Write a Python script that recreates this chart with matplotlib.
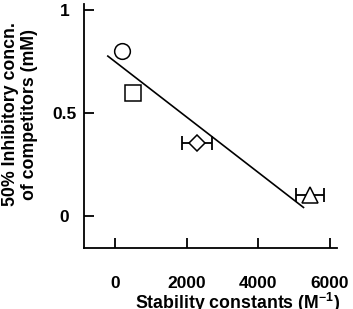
import matplotlib
matplotlib.use("Agg")
import matplotlib.pyplot as plt

plt.rcParams['font.family'] = ['Liberation Sans', 'DejaVu Sans']
plt.rcParams['mathtext.fontset'] = 'custom'
plt.rcParams['mathtext.rm'] = 'Liberation Sans'
plt.rcParams['mathtext.bf'] = 'Liberation Sans:bold'

# Data
stability = [200, 500, 2280, 5440]           # M^-1
inhib_conc = [0.80, 0.60, 0.355, 0.10]       # mM
xerr = [0, 0, 420, 380]
markers = ['o', 's', 'D', '^']
fit_x = [-200, 5260]
fit_y = [0.777, 0.042]
xticks = [0, 2000, 4000, 6000]
yticks = [0, 0.5, 1]
ytick_labels = ['0', '0.5', '1']

W, H = 353, 309
fig = plt.figure(figsize=(W / 100, H / 100), dpi=100)
ax_l, ax_r, ax_b, ax_t = 84, 337, 248, 4
ax = fig.add_axes([ax_l / W, (H - ax_b) / H, (ax_r - ax_l) / W, (ax_b - ax_t) / H])

sizes = {'o': 11.3, 's': 11.0, 'D': 7.8, '^': 11.0}
for x, y, e, m in zip(stability, inhib_conc, xerr, markers):
    if e:
        ax.errorbar(x, y, xerr=e, fmt='none', ecolor='black', elinewidth=1.3,
                    capsize=4.8, capthick=1.3, zorder=2)
    ax.plot(x, y, marker=m, markersize=sizes[m], markerfacecolor='white',
            markeredgecolor='black', markeredgewidth=1.1, linestyle='none', zorder=3)

ax.plot(fit_x, fit_y, color='black', linewidth=1.2, zorder=1)

ax.set_xlim(-865, 6195)
ax.set_ylim(-0.155, 1.03)
ax.set_xticks(xticks)
ax.set_xticklabels([str(t) for t in xticks])
ax.set_yticks(yticks)
ax.set_yticklabels(ytick_labels, ha='center')

for s in ['top', 'right']:
    ax.spines[s].set_visible(False)
for s in ['left', 'bottom']:
    ax.spines[s].set_linewidth(1.3)

ax.tick_params(axis='both', direction='in', length=7, width=1.3, labelsize=12.5)
ax.tick_params(axis='x', pad=20)
ax.tick_params(axis='y', pad=14)
for lab in ax.get_xticklabels() + ax.get_yticklabels():
    lab.set_fontweight('bold')

fig.text(20 / W, 1 - 114 / H, "50% Inhibitory concn.\nof competitors (mM)",
         rotation=90, ha='center', va='center', fontsize=12.8, fontweight='bold',
         linespacing=1.1)
fig.text(238 / W, 1 - 303 / H, r"Stability constants (M$^{\mathbf{-1}}$)",
         ha='center', va='center', fontsize=12.8, fontweight='bold')

fig.savefig('out.png', dpi=100)
